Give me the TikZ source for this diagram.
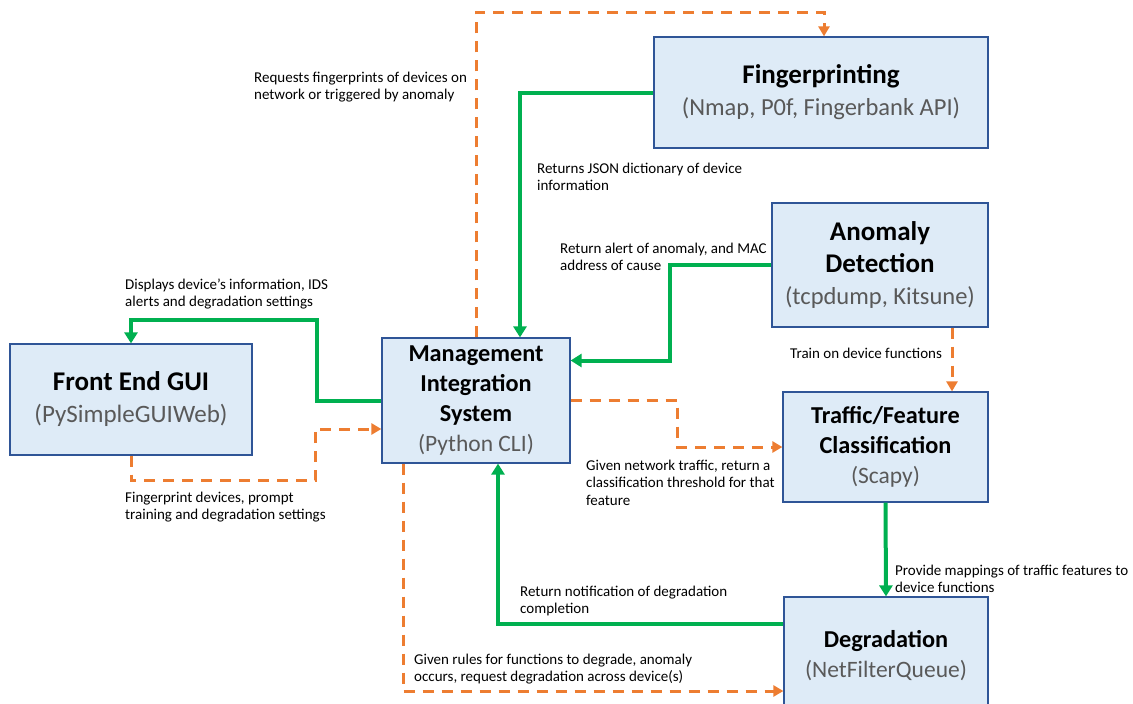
\documentclass[tikz,border=0pt]{standalone}
\usepackage{fontspec}
\setmainfont{Carlito}
\usetikzlibrary{arrows.meta}
\definecolor{boxfill}{HTML}{DEEBF7}
\definecolor{boxline}{HTML}{2F5597}
\definecolor{subgrey}{HTML}{595959}
\definecolor{flowgreen}{HTML}{00B050}
\definecolor{floworange}{HTML}{ED7D31}

\begin{document}
\begin{tikzpicture}[
  x=1pt, y=-1pt,
  font=\fontsize{15}{17.5}\selectfont,
  box/.style={draw=boxline, fill=boxfill, line width=1.2pt, align=center,
    inner sep=0pt, font=\fontsize{24.3}{30}\selectfont},
  bigbox/.style={box, font=\fontsize{27}{32}\selectfont},
  greenline/.style={draw=flowgreen, line width=4pt,
    -{Triangle[length=11pt,width=13pt]}},
  orangeline/.style={draw=floworange, line width=3pt,
    dash pattern=on 11pt off 8pt, -{Triangle[length=10pt,width=11pt]}},
  lbl/.style={anchor=base west, align=left, inner sep=0pt},
]
  \useasboundingbox (0,0) rectangle (1133,704);

  % boxes
  \node[bigbox, minimum width=334pt, minimum height=111pt] (fp) at (821,92.5)
    {{\bfseries Fingerprinting}\\{\color{subgrey}\fontsize{24.5}{32}\selectfont(Nmap, P0f, Fingerbank API)}};
  \node[bigbox, minimum width=216pt, minimum height=124pt] (ad) at (880,265)
    {{\bfseries Anomaly}\\{\bfseries Detection}\\{\color{subgrey}\fontsize{24.5}{32}\selectfont(tcpdump, Kitsune)}};
  \node[box, minimum width=205pt, minimum height=110pt] (tf) at (885.5,447)
    {{\bfseries Traffic/Feature}\\{\bfseries Classification}\\{\color{subgrey}\fontsize{23.5}{30}\selectfont(Scapy)}};
  \node[box, minimum width=204pt, minimum height=118pt] (dg) at (886,656)
    {{\bfseries Degradation}\\{\color{subgrey}\fontsize{23.5}{30}\selectfont(NetFilterQueue)}};
  \node[box, minimum width=188pt, minimum height=125pt] (mis) at (476,400.5)
    {{\bfseries Management}\\{\bfseries Integration}\\{\bfseries System}\\{\color{subgrey}\fontsize{23.5}{30}\selectfont(Python CLI)}};
  \node[bigbox, minimum width=242pt, minimum height=111pt] (fe) at (131,399.5)
    {{\bfseries Front End GUI}\\{\color{subgrey}\fontsize{25}{32}\selectfont(PySimpleGUIWeb)}};

  % connectors
  \draw[orangeline] (mis.north) -- ++(0,-325) -| ([xshift=3pt]fp.north);
  \draw[greenline] (fp.west) -| ([xshift=44pt]mis.north);
  \draw[greenline] (ad.west) -- ++(-101,0) |- ([yshift=40pt]mis.east);
  \draw[orangeline] ([xshift=72pt]ad.south) -- ([xshift=72pt]ad.south |- tf.north);
  \draw[orangeline] (mis.east) -- ++(107,0) |- (tf.west);
  \draw[greenline] (tf.south) -- (dg.north);
  \draw[greenline] ([yshift=32pt]dg.west) -| ([xshift=22pt]mis.south);
  \draw[orangeline] ([xshift=-73pt]mis.south) |- ([yshift=-35pt]dg.west);
  \draw[greenline] (mis.west) -- ++(-64,0) -- ++(0,-80.5) -| (fe.north);
  \draw[orangeline] (fe.south) -- ++(0,25) -| ([xshift=-66pt,yshift=-28.5pt]mis.west)
    -- ([yshift=-28.5pt]mis.west);

  % labels (placed at baseline of last line)
  \node[lbl] (l-req) at (254,99.5) {Requests fingerprints of devices on\\network or triggered by anomaly};
  \node[lbl] (l-json) at (537,190.5) {Returns JSON dictionary of device\\information};
  \node[lbl] (l-alert) at (560,270.5) {Return alert of anomaly, and MAC\\address of cause};
  \node[lbl] (l-train) at (790,358) {Train on device functions};
  \node[lbl] (l-disp) at (125,306.5) {Displays device’s information, IDS\\alerts and degradation settings};
  \node[lbl] (l-fing) at (125,519.5) {Fingerprint devices, prompt\\training and degradation settings};
  \node[lbl] (l-class) at (586,505) {Given network traffic, return a\\classification threshold for that\\feature};
  \node[lbl] (l-map) at (895,592.5) {Provide mappings of traffic features to\\device functions};
  \node[lbl] (l-notif) at (520,613.5) {Return notification of degradation\\completion};
  \node[lbl] (l-rules) at (414,681.5) {Given rules for functions to degrade, anomaly\\occurs, request degradation across device(s)};
\end{tikzpicture}
\end{document}
